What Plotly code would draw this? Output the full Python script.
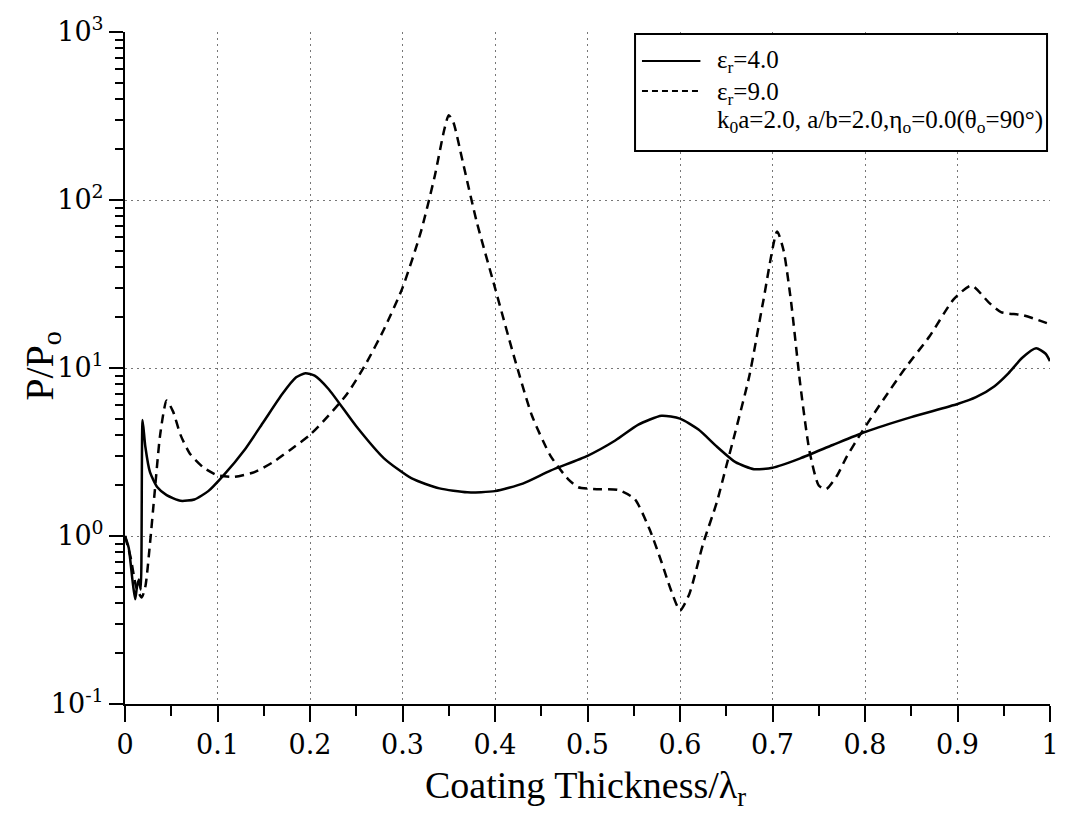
import plotly.graph_objects as go

# Normalized power P/Po versus coating thickness (in units of lambda_r)
thickness_eps4 = [0.0, 0.004, 0.008, 0.011, 0.013, 0.015, 0.017, 0.019, 0.022, 0.027, 0.035,
                  0.045, 0.06, 0.075, 0.09, 0.106, 0.13, 0.15, 0.17, 0.185, 0.195, 0.205,
                  0.22, 0.25, 0.28, 0.31, 0.34, 0.37, 0.40, 0.43, 0.46, 0.50, 0.53, 0.555,
                  0.58, 0.60, 0.62, 0.64, 0.66, 0.68, 0.70, 0.73, 0.765, 0.80, 0.85, 0.90,
                  0.92, 0.94, 0.955, 0.97, 0.985, 0.995, 1.0]
ratio_eps4 = [1.0, 0.85, 0.55, 0.42, 0.5, 0.55, 0.48, 4.9, 3.4, 2.4, 1.95,
              1.75, 1.62, 1.65, 1.85, 2.28, 3.3, 4.8, 7.0, 8.8, 9.3, 9.0,
              7.5, 4.5, 2.9, 2.2, 1.92, 1.82, 1.85, 2.05, 2.45, 3.0, 3.7, 4.6,
              5.2, 5.0, 4.3, 3.4, 2.75, 2.5, 2.55, 2.9, 3.48, 4.16, 5.1, 6.1,
              6.7, 7.8, 9.3, 11.5, 13.1, 12.2, 11.0]

thickness_eps9 = [0.0, 0.006, 0.012, 0.018, 0.022, 0.027, 0.032, 0.038, 0.045, 0.052, 0.06,
                  0.07, 0.085, 0.1, 0.118, 0.14, 0.16, 0.18, 0.2, 0.22, 0.24, 0.26,
                  0.28, 0.30, 0.32, 0.335, 0.345, 0.35, 0.355, 0.365, 0.38, 0.40, 0.42,
                  0.44, 0.46, 0.479, 0.49, 0.51, 0.533, 0.551, 0.567, 0.58, 0.59, 0.60,
                  0.61, 0.625, 0.64, 0.65, 0.66, 0.675, 0.69, 0.705, 0.712, 0.72, 0.73,
                  0.74, 0.75, 0.758, 0.77, 0.78, 0.797, 0.82, 0.843, 0.87, 0.896, 0.915,
                  0.934, 0.947, 0.971, 1.0]
ratio_eps9 = [1.0, 0.75, 0.5, 0.43, 0.5, 0.9, 1.8, 4.0, 6.4, 5.5, 4.0,
              3.1, 2.55, 2.3, 2.25, 2.4, 2.75, 3.3, 4.0, 5.2, 7.0, 10.5,
              17.0, 30.0, 65.0, 140.0, 260.0, 320.0, 290.0, 170.0, 75.0, 30.0, 12.0,
              5.2, 3.0, 2.18, 1.95, 1.9, 1.88, 1.66, 1.1, 0.7, 0.48, 0.36,
              0.45, 0.9, 1.6, 2.6, 4.2, 9.0, 25.0, 65.0, 50.0, 25.0, 8.0,
              3.2, 2.0, 1.9, 2.3, 2.95, 4.2, 6.5, 9.9, 15.5, 25.7, 31.0,
              24.5, 21.5, 20.6, 18.2]

x_ticks = [0, 0.1, 0.2, 0.3, 0.4, 0.5, 0.6, 0.7, 0.8, 0.9, 1.0]
x_ticktext = ["0", "0.1", "0.2", "0.3", "0.4", "0.5", "0.6", "0.7", "0.8", "0.9", "1"]
y_ticks = [0.1, 1, 10, 100, 1000]
y_ticktext = ["10<sup>-1</sup>", "10<sup>0</sup>", "10<sup>1</sup>", "10<sup>2</sup>", "10<sup>3</sup>"]
y_minor = [m * d for d in (0.1, 1, 10, 100) for m in range(2, 10)]

legend_labels = ["ε<sub>r</sub>=4.0", "ε<sub>r</sub>=9.0",
                 "k<sub>0</sub>a=2.0, a/b=2.0,η<sub>o</sub>=0.0(θ<sub>o</sub>=90°)"]
x_title = "Coating Thickness/λ<sub>r</sub>"
y_title = "P/P<sub>o</sub>"

FONT = "Liberation Serif"
TICK_FONT = "DejaVu Serif"
W, H = 1068, 828
L, R, T, B = 125, 9, 32, 124
PW, PH = W - L - R, H - T - B


def px(xpix):
    return (xpix - L) / PW


def py(ypix):
    return (H - B - ypix) / PH


fig = go.Figure()
fig.add_trace(go.Scatter(x=thickness_eps4, y=ratio_eps4, mode="lines",
                         line=dict(color="black", width=2.5, shape="spline", smoothing=0.6),
                         showlegend=False))
fig.add_trace(go.Scatter(x=thickness_eps9, y=ratio_eps9, mode="lines",
                         line=dict(color="black", width=2.5, dash="9px,6px",
                                   shape="spline", smoothing=0.6),
                         showlegend=False))

# Legend box drawn by hand
shapes = [
    dict(type="rect", xref="paper", yref="paper", x0=px(640), x1=px(1056), y0=py(151), y1=py(34),
         line=dict(color="black", width=2), fillcolor="white", layer="above"),
    dict(type="line", xref="paper", yref="paper", x0=px(647), x1=px(706), y0=py(61), y1=py(61),
         line=dict(color="black", width=2)),
    dict(type="line", xref="paper", yref="paper", x0=px(647), x1=px(706), y0=py(91), y1=py(91),
         line=dict(color="black", width=2, dash="6px,4px")),
]
annotations = []
for label, ypix in zip(legend_labels, [62, 93, 122]):
    annotations.append(dict(xref="paper", yref="paper", x=px(721), y=py(ypix), text=label,
                            showarrow=False, xanchor="left", yanchor="middle",
                            font=dict(family=FONT, size=25, color="black")))

# Axis titles
annotations.append(dict(xref="paper", yref="paper", x=px(590), y=py(788), text=x_title,
                        showarrow=False, xanchor="center", yanchor="middle",
                        font=dict(family=FONT, size=38, color="black")))
annotations.append(dict(xref="paper", yref="paper", x=px(41), y=py(366), text=y_title,
                        showarrow=False, xanchor="center", yanchor="middle", textangle=-90,
                        font=dict(family=FONT, size=40, color="black")))

grid = dict(showgrid=True, gridcolor="#777", gridwidth=1, griddash="2px,4px")

fig.update_layout(
    width=W, height=H,
    margin=dict(l=L, r=R, t=T, b=B),
    paper_bgcolor="white", plot_bgcolor="white",
    font=dict(family=FONT, color="black"),
    shapes=shapes, annotations=annotations,
    xaxis=dict(range=[0, 1], tickvals=x_ticks, ticktext=x_ticktext,
               ticks="outside", ticklen=16, tickwidth=1.5, tickcolor="black",
               minor=dict(dtick=0.05, tick0=0, ticks="outside", ticklen=10, tickwidth=1.5,
                          tickcolor="black", showgrid=False),
               showline=True, linecolor="black", linewidth=2, zeroline=False,
               tickfont=dict(family=TICK_FONT, size=27), ticklabeloverflow="allow",
               **grid),
    yaxis=dict(type="log", range=[-1, 3], tickvals=y_ticks, ticktext=y_ticktext,
               ticks="outside", ticklen=14, tickwidth=1.5, tickcolor="black",
               minor=dict(tickvals=y_minor, ticks="outside", ticklen=8, tickwidth=1.5,
                          tickcolor="black", showgrid=False),
               showline=True, linecolor="black", linewidth=2, zeroline=False,
               tickfont=dict(family=TICK_FONT, size=27),
               **grid),
)

fig.write_html("out.html")
